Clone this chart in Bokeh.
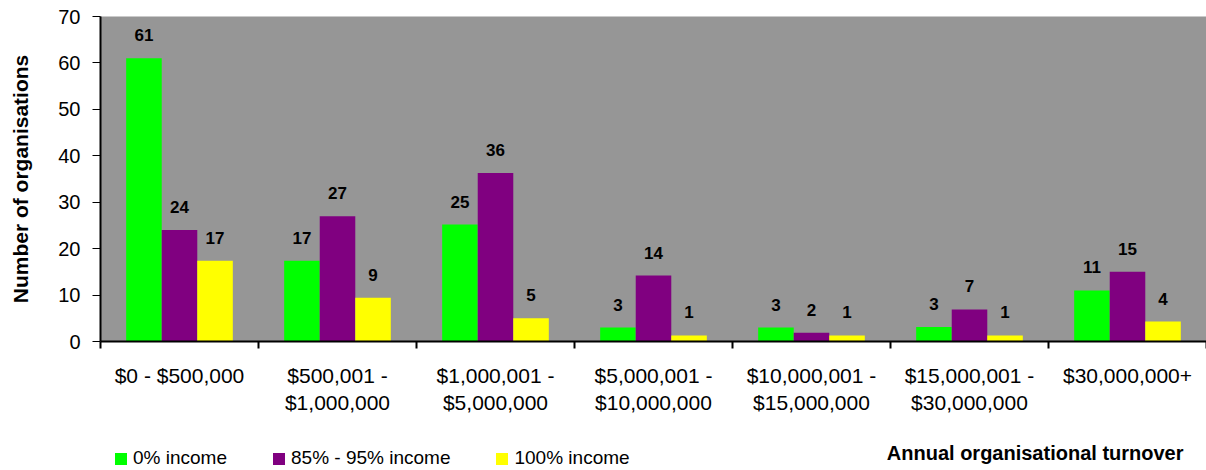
from bokeh.plotting import figure
from bokeh.layouts import column
from bokeh.models import ColumnDataSource, FixedTicker, Legend, LegendItem, Range1d, Label
from bokeh.core.properties import value
from bokeh.embed import file_html
from bokeh.resources import INLINE

categories = ["$0 - $500,000", "$500,001 -\n$1,000,000", "$1,000,001 -\n$5,000,000",
              "$5,000,001 -\n$10,000,000", "$10,000,001 -\n$15,000,000",
              "$15,000,001 -\n$30,000,000", "$30,000,000+"]
series_names = ["0% income", "85% - 95% income", "100% income"]
income_0 = [61.0, 17.4, 25.2, 3.0, 3.0, 3.1, 11.0]
income_85_95 = [24.0, 27.0, 36.3, 14.2, 1.9, 6.9, 15.0]
income_100 = [17.4, 9.4, 5.0, 1.3, 1.3, 1.3, 4.3]
colors = ["#00FF00", "#800080", "#FFFF00"]
y_ticks = [0, 10, 20, 30, 40, 50, 60, 70]
x_title = "Annual organisational turnover"
y_title = "Number of organisations"

FONT = "Liberation Sans"
n = len(categories)
W = 1206
LEFT = 100

# ---- main chart ----
p = figure(width=W, height=430, output_backend="svg", toolbar_location=None,
           x_range=Range1d(0, n), y_range=Range1d(0, 70),
           min_border_left=LEFT, min_border_right=0, min_border_top=16, min_border_bottom=89)
p.background_fill_color = "#969696"
p.border_fill_color = "white"
p.outline_line_color = None
p.grid.visible = False

bar_w = 0.225
offsets = [-bar_w, 0.0, bar_w]
for vals, off, col in zip([income_0, income_85_95, income_100], offsets, colors):
    src = ColumnDataSource(dict(
        x=[i + 0.5 + off for i in range(n)],
        top=vals,
        label=[str(int(round(v))) for v in vals],
    ))
    p.vbar(x="x", top="top", width=bar_w, source=src, fill_color=col, line_color=None)
    p.text(x="x", y="top", text="label", source=src, text_align="center",
           text_baseline="alphabetic", y_offset=-23, text_font=value(FONT),
           text_font_size="17px", text_font_style="bold", text_color="black")

ya = p.yaxis[0]
ya.ticker = FixedTicker(ticks=y_ticks)
ya.axis_label = y_title
ya.axis_label_text_font = FONT
ya.axis_label_text_font_size = "21px"
ya.axis_label_text_font_style = "bold"
ya.axis_label_text_color = "black"
ya.axis_label_standoff = 23
ya.major_label_text_font = FONT
ya.major_label_text_font_size = "20px"
ya.major_label_text_color = "black"
ya.major_tick_out = 8
ya.major_tick_in = 0
ya.minor_tick_out = 0
ya.minor_tick_in = 0
ya.major_label_standoff = 12
ya.axis_line_width = 2
ya.axis_line_color = "black"

xa = p.xaxis[0]
centers = [i + 0.5 for i in range(n)]
xa.ticker = FixedTicker(ticks=centers, minor_ticks=list(range(n + 1)))
xa.major_label_overrides = {c: lab for c, lab in zip(centers, categories)}
xa.major_tick_out = 0
xa.major_tick_in = 0
xa.minor_tick_out = 7
xa.minor_tick_in = 0
xa.minor_tick_line_color = "black"
xa.minor_tick_line_width = 2
xa.major_label_standoff = 15
xa.major_label_text_font = FONT
xa.major_label_text_font_size = "21px"
xa.major_label_text_line_height = 1.2
xa.major_label_text_color = "black"
xa.axis_line_width = 2
xa.axis_line_color = "black"

# ---- bottom strip: legend and x-axis title (frame aligned with the chart above) ----
strip_h = 40
q = figure(width=W, height=strip_h, output_backend="svg", toolbar_location=None,
           x_range=Range1d(LEFT, W), y_range=Range1d(0, strip_h),
           x_axis_location=None, y_axis_location=None,
           min_border_left=LEFT, min_border_right=0, min_border_top=0, min_border_bottom=0)
q.background_fill_color = "white"
q.border_fill_color = "white"
q.outline_line_color = None
q.grid.visible = False

# zero-height, off-screen swatch glyphs, used only to give the legend its colour keys
dummies = [q.vbar(x=[-5000], top=[0], bottom=[0], width=1, fill_color=col, line_color=None)
           for col in colors]
legend = Legend(items=[LegendItem(label=nm, renderers=[r]) for nm, r in zip(series_names, dummies)],
                orientation="horizontal", location=(13, 1),
                glyph_width=15, glyph_height=15, label_standoff=5, spacing=44,
                padding=0, margin=0, border_line_color=None, background_fill_alpha=0,
                label_text_font=FONT, label_text_font_size="19px", label_height=20,
                label_text_color="black")
q.add_layout(legend, "center")
q.add_layout(Label(x=1183, y=18, text=x_title, text_align="right", text_baseline="middle",
                   text_font=FONT, text_font_size="20px", text_font_style="bold",
                   text_color="black"))

layout = column(p, q, spacing=0)
open("out.html", "w").write(file_html(layout, INLINE))
